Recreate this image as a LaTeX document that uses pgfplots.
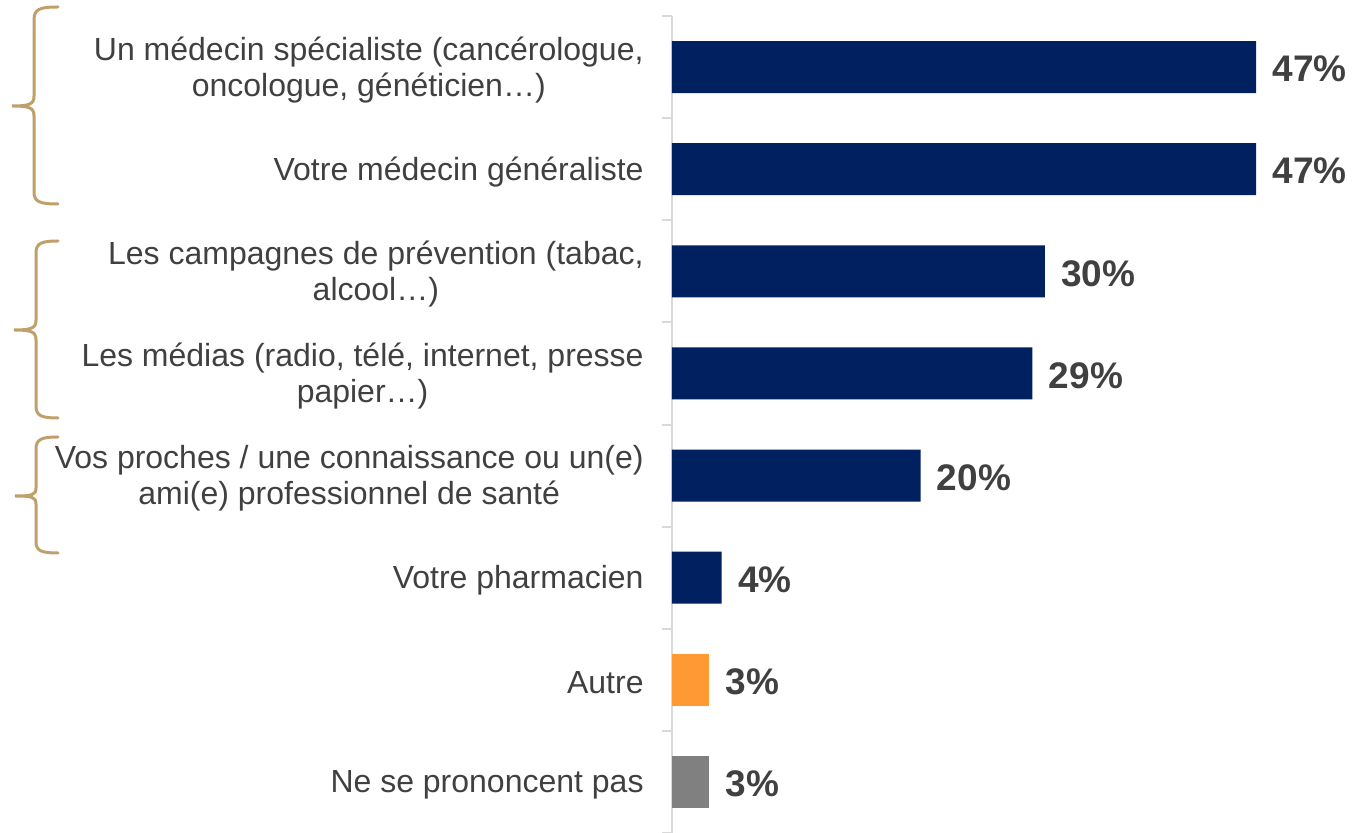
\documentclass[border=0pt]{standalone}
\usepackage{pgfplots}
\pgfplotsset{compat=1.18}
\usepackage{fontspec}
\setmainfont{Liberation Sans}
\definecolor{navy}{HTML}{002060}
\definecolor{orangebar}{HTML}{FF9933}
\definecolor{graybar}{HTML}{808080}
\definecolor{txt}{HTML}{404040}
\definecolor{bracecol}{HTML}{BFA06A}
\definecolor{axisgray}{HTML}{D9D9D9}

\begin{document}
\begin{tikzpicture}
\begin{axis}[
  at={(336pt,-8pt)}, anchor=north west,
  scale only axis, width=310.75pt, height=408.5pt,
  xmin=0, xmax=50, ymin=-0.5, ymax=7.5, y dir=reverse,
  xbar, bar width=26pt, bar shift=0pt,
  axis x line=none, axis y line*=left,
  axis line style={axisgray, line width=1pt},
  ytick={0,...,7},
  yticklabels={
    {Un médecin spécialiste (cancérologue,\\oncologue, généticien…)},
    {Votre médecin généraliste},
    {Les campagnes de prévention (tabac,\\alcool…)},
    {Les médias (radio, télé, internet, presse\\papier…)},
    {Vos proches / une connaissance ou un(e)\\ami(e) professionnel de santé},
    {Votre pharmacien},
    {Autre},
    {Ne se prononcent pas}},
  major tick length=0pt,
  minor ytick={-0.5,0.5,...,7.5},
  minor tick length=5pt, tick align=outside,
  minor tick style={axisgray, line width=1pt},
  yticklabel style={font=\fontsize{16}{18}\selectfont, text=txt, align=center, inner sep=0pt, yshift=-1.5pt},
  yticklabel shift=14pt,
  clip=false,
  nodes near coords={\pgfmathprintnumber[assume math mode=true]{\pgfplotspointmeta}\%},
  nodes near coords align=horizontal,
  every node near coord/.append style={font=\fontsize{18.5}{20}\selectfont\bfseries, text=txt, inner sep=0pt, xshift=8pt, yshift=-1pt},
]
\addplot[fill=navy, draw=none] coordinates {(47,0) (47,1) (30,2) (29,3) (20,4) (4,5)};
\addplot[fill=orangebar, draw=none] coordinates {(3,6)};
\addplot[fill=graybar, draw=none] coordinates {(3,7)};
\end{axis}
% group braces (pixel units)
\begin{scope}[x=0.5pt, y=-0.5pt, draw=bracecol, line width=1.5pt, line cap=round]
\draw (58,7) .. controls (40,7) and (34,9) .. (34,20) -- (34,96)
  .. controls (34,104) and (30,106) .. (12,106)
  .. controls (30,106) and (34,108) .. (34,116) -- (34,192)
  .. controls (34,202) and (40,204) .. (58,204);
\draw (58,241) .. controls (42,241) and (36,243) .. (36,253) -- (36,320)
  .. controls (36,328) and (32,330) .. (14,330)
  .. controls (32,330) and (36,332) .. (36,340) -- (36,406)
  .. controls (36,416) and (42,418) .. (58,418);
\draw (58,437) .. controls (42,437) and (36,439) .. (36,449) -- (36,488)
  .. controls (36,495) and (32,496) .. (15,496)
  .. controls (32,496) and (36,497) .. (36,504) -- (36,542)
  .. controls (36,551) and (42,553) .. (58,553);
\end{scope}
\pgfresetboundingbox
\path[use as bounding box] (0,0) rectangle (677.5pt,-416.5pt);
\end{tikzpicture}
\end{document}
